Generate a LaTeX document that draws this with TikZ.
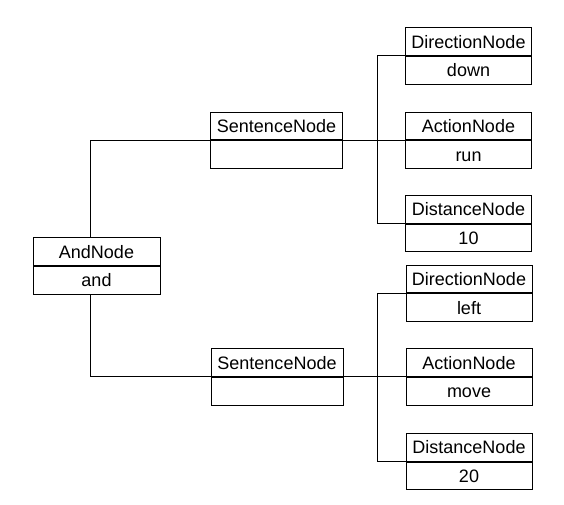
\documentclass[tikz,border=0pt]{standalone}
\usepackage{fontspec}
\setmainfont{Liberation Sans}
\begin{document}
\begin{tikzpicture}[x=1pt,y=-1pt,
  cell/.style={draw, line width=0.9pt, minimum height=27.7pt, inner sep=0pt,
    text height=13pt, text depth=0pt, font=\fontsize{18}{21}\selectfont, anchor=north},
  andbox/.style={cell, minimum width=127pt},
  sentbox/.style={cell, minimum width=132pt},
  leafbox/.style={cell, minimum width=126pt},
  conn/.style={line width=0.9pt}]
\useasboundingbox (0,0) rectangle (564,505);
% AndNode
\node[andbox] (and) at (96.5,237.3) {AndNode};
\node[andbox] (andv) at (and.south) {and};
% Sentence nodes
\node[sentbox] (s1) at (276.5,111.6) {SentenceNode};
\node[sentbox] (s1v) at (s1.south) {};
\node[sentbox] (s2) at (277,348.3) {SentenceNode};
\node[sentbox] (s2v) at (s2.south) {};
% upper leaves
\node[leafbox] (d1) at (468.5,27.3) {DirectionNode};
\node[leafbox] (d1v) at (d1.south) {down};
\node[leafbox] (a1) at (468.5,111.6) {ActionNode};
\node[leafbox] (a1v) at (a1.south) {run};
\node[leafbox] (t1) at (468.5,195) {DistanceNode};
\node[leafbox] (t1v) at (t1.south) {10};
% lower leaves
\node[leafbox] (d2) at (469,264.6) {DirectionNode};
\node[leafbox] (d2v) at (d2.south) {left};
\node[leafbox] (a2) at (469,348.3) {ActionNode};
\node[leafbox] (a2v) at (a2.south) {move};
\node[leafbox] (t2) at (469,433) {DistanceNode};
\node[leafbox] (t2v) at (t2.south) {20};
% junction columns
\coordinate (c0) at (90.4,0);
\coordinate (c1) at (377,0);
\coordinate (c2) at (377.6,0);
% connectors
\draw[conn] (and.north -| c0) |- (s1.south west);
\draw[conn] (andv.south -| c0) |- (s2.south west);
\draw[conn] (s1.south east) -- (a1.south west);
\draw[conn] (s2.south east) -- (a2.south west);
\draw[conn] (d1.south west) -- (d1.south west -| c1) -- (t1.south west -| c1) -- (t1.south west);
\draw[conn] (d2.south west) -- (d2.south west -| c2) -- (t2.south west -| c2) -- (t2.south west);
\end{tikzpicture}
\end{document}
